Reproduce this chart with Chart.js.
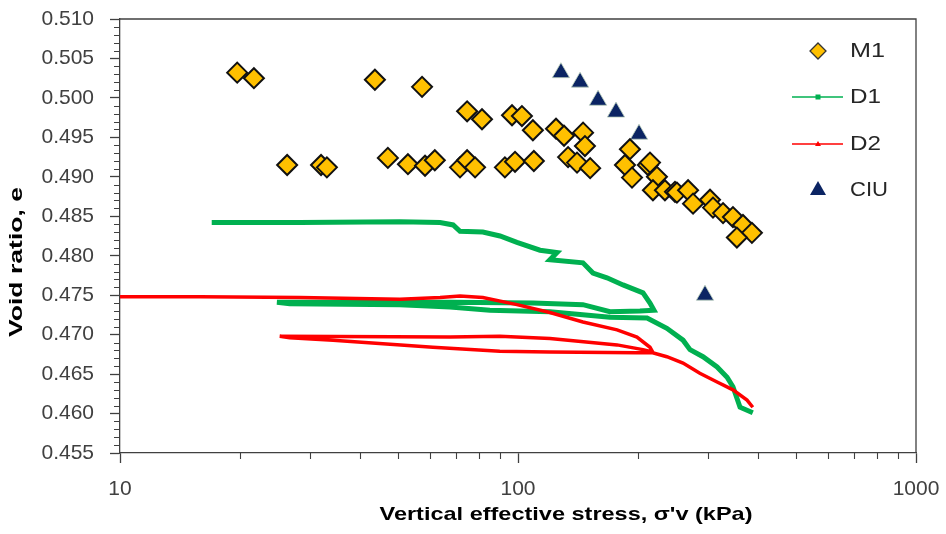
<!DOCTYPE html>
<html><head><meta charset="utf-8">
<script src="https://cdn.jsdelivr.net/npm/chart.js@4/dist/chart.umd.min.js"></script>
<style>html,body{margin:0;padding:0;background:#fff}#wrap{width:946px;height:534px}</style>
</head><body><div id="wrap"><canvas id="c" width="946" height="534"></canvas></div>
<script>
// ---------- data ----------
const m1X = [19.7,21.7,43.7,57.4,74.5,81.2,96.6,102.3,109,124.6,130.5,145.7,147.3,
  26.3,32.0,33.1,47.1,52.9,58.4,61.8,71.5,74.5,78,92.7,98.3,109.6,133.6,140.7,151.8,
  191.1,185.7,193.4,212,214.6,223.4,218.3,234,248,250.8,267.5,275.3,303.7,309,327.5,346.8,367.5,387,354.8];
const m1Y = [0.5032,0.5025,0.5023,0.5014,0.4983,0.4973,0.4978,0.4977,0.4959,0.4961,0.4952,0.4956,0.4939,
  0.4915,0.4915,0.4912,0.4924,0.4916,0.4914,0.4921,0.4912,0.4921,0.4912,0.4912,0.4919,0.4920,0.4925,0.4918,0.4911,
  0.4935,0.4915,0.4899,0.4915,0.4918,0.4900,0.4883,0.4883,0.4881,0.4880,0.4883,0.4866,0.4871,0.4861,0.4854,0.4849,0.4839,0.4829,0.4823];

const d1X = [17.0,28.3,50.5,63.7,68.7,71.5,81.6,90.1,99.4,113.6,125.3,120.3,145.6,154.3,167.3,183.6,206.1,214.6,219.6,
  202.5,170.3,145.6,109,67.5,45,24.8,
  26.7,50.5,67.5,85,120.3,170.3,211,
  236.6,259.8,270.5,291.6,316.4,335.2,346.8,361.3,389];
const d1Y = [0.4842,0.4842,0.4843,0.4842,0.4839,0.4831,0.4830,0.4825,0.4817,0.4807,0.4804,0.4795,0.4791,0.4778,0.4772,0.4763,0.4753,0.4740,0.4731,
  0.4730,0.4729,0.4738,0.4740,0.4741,0.4741,0.4741,
  0.4739,0.4738,0.4735,0.4731,0.4729,0.4722,0.4721,
  0.4708,0.4693,0.4681,0.4672,0.4659,0.4646,0.4634,0.4608,0.4601];

const d2X = [10,15.9,28.3,50.5,63.7,71.5,81.6,99.4,120.3,145.6,177.4,199,214.6,218,
  206,177.4,120.3,90,67.5,25.2,
  26.7,34.3,61.1,90,120,199,218,
  236.6,259.8,286.3,316.4,346.8,376.2,389];
const d2Y = [0.4748,0.4748,0.4747,0.4745,0.4747,0.4749,0.4747,0.4738,0.4728,0.4716,0.4706,0.4697,0.4684,0.4678,
  0.4681,0.4687,0.4695,0.4698,0.4697,0.4698,
  0.4696,0.4693,0.4684,0.4679,0.4678,0.4677,0.4677,
  0.4672,0.4664,0.4651,0.4640,0.4630,0.4617,0.4608];

const ciuX = [128.2,143.2,158.9,176.3,201.4,295];
const ciuY = [0.5032,0.5020,0.4997,0.4982,0.4954,0.4750];

const xMajorTicks = [10,100,1000];
const yMajorTicks = [0.455,0.460,0.465,0.470,0.475,0.480,0.485,0.490,0.495,0.500,0.505,0.510];
const seriesNames = ['M1','D1','D2','CIU'];
const xTitle = "Vertical effective stress, σ'v (kPa)";
const yTitle = "Void ratio, e";

const pts = (xs, ys) => xs.map((x, i) => ({x: x, y: ys[i]}));
const AX = '#404040';

function stretchedText(ctx, text, x, y, font, targetW, color, rot) {
  ctx.save();
  ctx.font = font;
  ctx.fillStyle = color;
  ctx.textAlign = 'center';
  ctx.textBaseline = 'middle';
  const w = ctx.measureText(text).width;
  ctx.translate(x, y);
  if (rot) ctx.rotate(rot);
  ctx.scale(targetW / w, 1);
  ctx.fillText(text, 0, 0);
  ctx.restore();
}
function noPad(s) { s.paddingTop = 0; s.paddingBottom = 0; s.paddingLeft = 0; s.paddingRight = 0; }

const decor = {
  id: 'decor',
  afterDraw(chart) {
    const ctx = chart.ctx, ca = chart.chartArea;
    const xs = chart.scales.x, ys = chart.scales.y;
    ctx.save();
    ctx.strokeStyle = AX; ctx.lineWidth = 1.3;
    ctx.beginPath();
    ctx.moveTo(ca.left, ca.top); ctx.lineTo(ca.right, ca.top); ctx.lineTo(ca.right, ca.bottom);
    ctx.stroke();
    ctx.lineWidth = 1.1;
    ctx.beginPath();
    for (let i = 455; i <= 510; i++) {
      if (i % 5 === 0) continue;
      const p = Math.round(ys.getPixelForValue(i / 1000)) + 0.5;
      ctx.moveTo(ca.left - 6, p); ctx.lineTo(ca.left, p);
    }
    for (const dec of [10, 100]) {
      for (let k = 2; k <= 9; k++) {
        const p = Math.round(xs.getPixelForValue(k * dec)) + 0.5;
        ctx.moveTo(p, ca.bottom); ctx.lineTo(p, ca.bottom + 6);
      }
    }
    ctx.stroke();
    ctx.restore();
    stretchedText(ctx, xTitle, 566, 515, 'bold 19px "Liberation Sans", Arial, sans-serif', 373, '#000', 0);
    stretchedText(ctx, yTitle, 17, 262, 'bold 19px "Liberation Sans", Arial, sans-serif', 150, '#000', -Math.PI / 2);
    const rows = [51, 97, 144, 190];
    const mx = 818, tx = 850;
    ctx.save();
    ctx.beginPath();
    ctx.moveTo(mx, rows[0] - 8); ctx.lineTo(mx + 8, rows[0]); ctx.lineTo(mx, rows[0] + 8); ctx.lineTo(mx - 8, rows[0]); ctx.closePath();
    ctx.fillStyle = '#FFC000'; ctx.fill(); ctx.strokeStyle = '#333'; ctx.lineWidth = 1.3; ctx.stroke();
    ctx.strokeStyle = '#00B050'; ctx.lineWidth = 1.6;
    ctx.beginPath(); ctx.moveTo(792, rows[1]); ctx.lineTo(843, rows[1]); ctx.stroke();
    ctx.fillStyle = '#00B050'; ctx.fillRect(mx - 2.5, rows[1] - 2.5, 5, 5);
    ctx.strokeStyle = '#FF0000';
    ctx.beginPath(); ctx.moveTo(792, rows[2]); ctx.lineTo(843, rows[2]); ctx.stroke();
    ctx.fillStyle = '#FF0000';
    ctx.beginPath(); ctx.moveTo(mx, rows[2] - 3); ctx.lineTo(mx + 3, rows[2] + 2); ctx.lineTo(mx - 3, rows[2] + 2); ctx.closePath(); ctx.fill();
    ctx.fillStyle = '#0B2463';
    ctx.beginPath(); ctx.moveTo(mx, rows[3] - 9); ctx.lineTo(mx + 8, rows[3] + 5); ctx.lineTo(mx - 8, rows[3] + 5); ctx.closePath(); ctx.fill();
    ctx.restore();
    const widths = [35, 31, 31, 38];
    seriesNames.forEach((n, i) => {
      stretchedText(ctx, n, tx + widths[i] / 2, rows[i], '21px "Liberation Sans", Arial, sans-serif', widths[i], '#262626', 0);
    });
  }
};

new Chart(document.getElementById('c'), {
  type: 'scatter',
  data: {
    datasets: [
      {label: seriesNames[0], data: pts(m1X, m1Y), order: 0, pointStyle: 'rectRot', pointRadius: 10, pointHoverRadius: 10,
       backgroundColor: '#FFC000', borderColor: '#111', borderWidth: 2},
      {label: seriesNames[1], data: pts(d1X, d1Y), order: 3, showLine: true, borderColor: '#00B050', backgroundColor: '#00B050',
       borderWidth: 5, pointRadius: 0, tension: 0, borderJoinStyle: 'miter'},
      {label: seriesNames[2], data: pts(d2X, d2Y), order: 2, showLine: true, borderColor: '#FF0000', backgroundColor: '#FF0000',
       borderWidth: 3.5, pointRadius: 0, tension: 0},
      {label: seriesNames[3], data: pts(ciuX, ciuY), order: 1, pointStyle: 'triangle', pointRadius: 10, pointHoverRadius: 10,
       backgroundColor: '#0B2463', borderColor: 'rgba(190,210,190,0.8)', borderWidth: 1}
    ]
  },
  options: {
    responsive: false, animation: false, devicePixelRatio: 1,
    layout: {padding: {top: 19, right: 30, left: 0, bottom: 0}},
    plugins: {legend: {display: false}, tooltip: {enabled: false}, title: {display: false}},
    scales: {
      x: {
        type: 'logarithmic', min: 10, max: 1000,
        afterBuildTicks: s => { s.ticks = xMajorTicks.map(v => ({value: v})); },
        afterFit: s => { s.height = 81; noPad(s); },
        ticks: {callback: v => String(v), color: AX, padding: 14, maxRotation: 0, autoSkip: false,
                font: {family: '"Liberation Sans", Arial, sans-serif', size: 21}},
        grid: {drawOnChartArea: false, drawTicks: true, tickLength: 10, tickColor: AX, tickWidth: 1.3},
        border: {display: true, color: AX, width: 1.3}
      },
      y: {
        type: 'linear', min: 0.455, max: 0.510,
        afterBuildTicks: s => { s.ticks = yMajorTicks.map(v => ({value: v})); },
        afterFit: s => { s.width = 120; noPad(s); },
        ticks: {callback: v => Number(v).toFixed(3), color: AX, padding: 16, autoSkip: false,
                font: {family: '"Liberation Sans", Arial, sans-serif', size: 21}},
        grid: {drawOnChartArea: false, drawTicks: true, tickLength: 10, tickColor: AX, tickWidth: 1.3},
        border: {display: true, color: AX, width: 1.3}
      }
    }
  },
  plugins: [decor]
});
</script>
</body></html>
